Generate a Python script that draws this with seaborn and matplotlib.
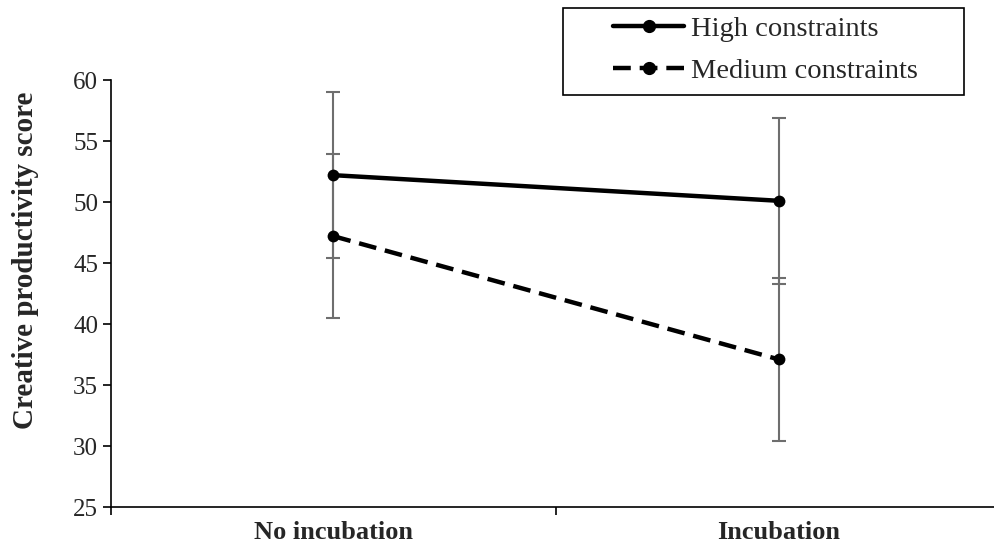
import numpy as np
import pandas as pd
import seaborn as sns
import matplotlib.pyplot as plt
from matplotlib.lines import Line2D
from matplotlib.patches import Rectangle

conditions = ["No incubation", "Incubation"]
groups = ["High constraints", "Medium constraints"]
high_means = [52.2, 50.1]
medium_means = [47.2, 37.1]
high_err = [6.8, 6.8]
medium_err = [6.7, 6.7]


def make_frame():
    rows = []
    for grp, means in zip(groups, [high_means, medium_means]):
        for i, (cond, m) in enumerate(zip(conditions, means)):
            rows.append({"pos": i, "condition": cond, "group": grp, "score": m})
    return pd.DataFrame(rows)


def main():
    sns.set_style("white")
    plt.rcParams["font.family"] = ["Liberation Serif", "DejaVu Serif"]

    df = make_frame()
    W, H = 994, 556
    fig = plt.figure(figsize=(W / 100, H / 100), dpi=100)
    ax = fig.add_axes([0.1114, 0.0881, 0.896, 0.768])

    # error bars behind the lines
    pos = np.arange(len(conditions))
    for means, errs in [(high_means, high_err), (medium_means, medium_err)]:
        ax.errorbar(pos, means, yerr=errs, fmt="none", ecolor="#6e6e6e",
                    elinewidth=1.5, capsize=4.7, capthick=1.5, zorder=1)

    dash = (4.0, 2.0)
    sns.lineplot(data=df, x="pos", y="score", style="group", color="black",
                 dashes={"High constraints": "", "Medium constraints": dash},
                 marker="o", markersize=8.5, markeredgewidth=0, linewidth=3.2,
                 ax=ax, zorder=3, legend=False)

    ax.set_xlim(-0.5, 1.5)
    ax.set_ylim(25, 60)
    ax.set_yticks(range(25, 61, 5))
    ax.set_xticks(pos)
    ax.set_xticklabels(conditions, fontsize=19, fontweight="bold")
    ax.set_xticks([-0.5, 0.5, 1.5], minor=True)
    ax.tick_params(axis="x", which="major", length=0, pad=10)
    ax.tick_params(axis="x", which="minor", length=6, width=1.2, direction="out",
                   color="black", bottom=True)
    ax.tick_params(axis="y", length=6, width=1.2, direction="out", color="black",
                   labelsize=18, pad=3, left=True)
    ax.set_xlabel("")
    ax.set_ylabel("Creative productivity score", fontsize=21, fontweight="bold")
    ax.yaxis.set_label_coords(-0.080, 0.578)

    sns.despine(ax=ax)
    for side in ["left", "bottom"]:
        ax.spines[side].set_color("black")
        ax.spines[side].set_linewidth(1.2)

    # legend frame as in the original (wide box, top right)
    box = Rectangle((563 / W, 1 - 95 / H), (964 - 563) / W, (95 - 8) / H,
                    transform=fig.transFigure, fill=False, edgecolor="black",
                    linewidth=1.2)
    fig.add_artist(box)

    handles = [
        Line2D([], [], color="black", linewidth=3.2, marker="o", markersize=8.5),
        Line2D([], [], color="black", linewidth=3.2, linestyle=(0, dash),
               marker="o", markersize=8.5),
    ]
    fig.legend(handles, groups, loc="upper left",
               bbox_to_anchor=(613 / W, 1 - 16 / H), fontsize=20.5,
               frameon=False, handlelength=2.5, handletextpad=0.25,
               borderpad=0, labelspacing=0.58, borderaxespad=0)

    fig.savefig("out.png", dpi=100)


if __name__ == "__main__":
    main()
